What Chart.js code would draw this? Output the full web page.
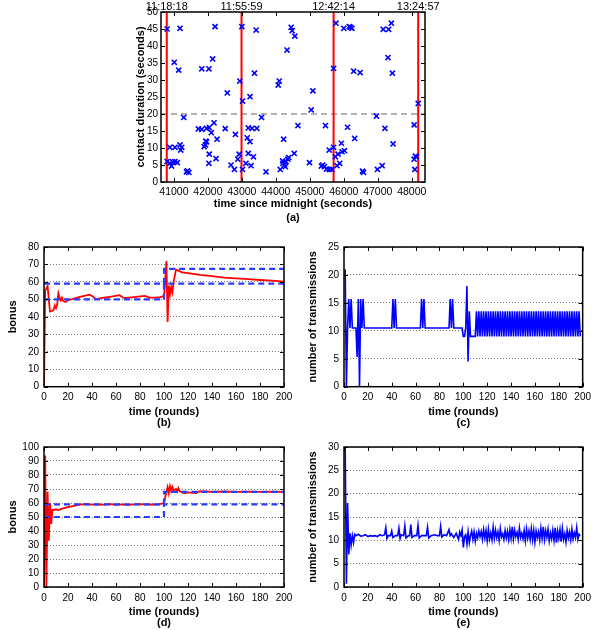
<!DOCTYPE html>
<html>
<head>
<meta charset="utf-8">
<script src="https://cdn.jsdelivr.net/npm/chart.js@4.4.1/dist/chart.umd.min.js"></script>
<style>
  body { margin: 0; background: #fff; }
  #wrap { position: relative; width: 596px; height: 630px; }
  canvas { position: absolute; }
</style>
</head>
<body>
<div id="wrap">
  <canvas id="chartA" width="325" height="228" style="left:120px;top:0px"></canvas>
  <canvas id="chartB" width="298" height="194" style="left:0px;top:236px"></canvas>
  <canvas id="chartC" width="296" height="194" style="left:300px;top:236px"></canvas>
  <canvas id="chartD" width="298" height="194" style="left:0px;top:436px"></canvas>
  <canvas id="chartE" width="296" height="194" style="left:300px;top:436px"></canvas>
</div>
<script>
// ---- (a) contacts: time since midnight vs contact duration
const contactTime = [
  40800, 41180, 42210, 41010, 41140, 42140, 41820, 42030, 42570, 41290,
  42180, 41720, 41820, 42040, 41960, 42100, 42510, 42270, 40880, 41030,
  41180, 41230, 41200, 41930, 41960, 41890, 41940, 42040, 42240, 42030,
  40800, 40880, 40960, 41030, 41100, 40930, 41370, 41440, 41400, 43000,
  43420, 44450, 44480, 44330, 43370, 42940, 44100, 44070, 43020, 43240,
  43580, 42810, 43190, 43300, 43440, 43160, 43240, 44230, 42920, 42880,
  43190, 43340, 43120, 43270, 42680, 42780, 43020, 43710, 44130, 44250,
  44300, 44350, 44280, 44210, 44200, 44380, 44540, 44560, 45770, 46000,
  46160, 46240, 46200, 45700, 46290, 46480, 45090, 45040, 44650, 45460,
  46110, 46320, 45570, 45700, 45930, 45750, 45830, 45950, 46020, 45880,
  44990, 45340, 45430, 45490, 45570, 45650, 45800, 45380, 47160, 47320,
  47400, 47300, 47430, 48190, 46960, 47210, 48070, 47450, 48070, 48140,
  48090, 47130, 46990, 46580, 48110, 46550
];
const contactDuration = [
  45.0, 45.2, 45.7, 35.2, 32.9, 36.2, 33.3, 33.3, 26.2, 19.0,
  17.4, 15.6, 15.5, 16.0, 15.8, 14.5, 15.7, 12.6, 10.2, 10.2,
  10.9, 10.2, 9.4, 10.9, 11.8, 10.4, 12.0, 8.2, 6.9, 5.5,
  6.0, 5.5, 5.9, 6.0, 5.7, 4.7, 3.0, 2.8, 3.3, 45.7,
  44.7, 45.5, 44.5, 38.8, 32.0, 29.7, 29.7, 28.5, 23.8, 25.1,
  19.0, 14.0, 15.9, 15.8, 15.8, 13.0, 11.9, 12.6, 8.2, 6.7,
  8.4, 7.4, 5.5, 4.8, 5.0, 3.7, 3.7, 3.0, 3.7, 5.0,
  6.0, 6.7, 4.5, 5.5, 6.2, 7.2, 8.4, 42.9, 46.7, 45.2,
  45.7, 45.2, 45.5, 33.4, 32.6, 32.2, 26.8, 21.2, 16.6, 16.6,
  16.1, 12.8, 9.4, 10.2, 11.4, 7.4, 8.2, 8.9, 9.2, 5.5,
  5.7, 4.7, 4.5, 3.8, 3.7, 3.7, 4.8, 5.0, 44.9, 44.9,
  46.7, 36.6, 32.0, 23.1, 19.4, 15.8, 16.8, 11.2, 6.7, 7.4,
  3.7, 4.8, 3.7, 2.8, 7.6, 3.2
];
const timeTicks = [41000, 42000, 43000, 44000, 45000, 46000, 47000, 48000];
const redLineX = [40790, 42990, 45700, 48190];
const topTimeLabels = ['11:18:18', '11:55:59', '12:42:14', '13:24:57'];
const thresholdSeconds = 20;
const timeMin = 40620;
const timeMax = 48390;

// ---- shared x ticks for the round panels
const roundTicks = [0, 20, 40, 60, 80, 100, 120, 140, 160, 180, 200];

// ---- bonus levels (dashed blue)
const levelRounds = [0, 100, 100, 200];
const bLow = [50, 50, 59, 59];
const bHigh = [59, 59, 67.5, 67.5];
const dLow = [50, 50, 59, 59];
const dHigh = [59, 59, 68, 68];

// ---- (b) bonus
const bRounds = [0, 1, 3, 4, 5, 7, 8, 9, 10, 11, 12, 13, 14, 15, 16, 18, 20, 25, 30, 38,
  40, 43, 50, 55, 63, 66, 68, 75, 84, 88, 92, 97, 100, 101, 102, 103, 104, 105, 106, 107,
  108, 110, 112, 115, 120, 130, 140, 150, 160, 170, 180, 190, 200];
const bBonus = [0, 55, 57.5, 50, 43, 43.5, 44, 46.5, 45, 47, 53.5, 51, 49.5, 51, 49, 48.5, 49.5, 50.5, 51.5, 52.7,
  52, 50.2, 51, 51.5, 52.4, 51, 50.8, 51.3, 52, 51, 51, 51.3, 52, 60, 72, 37, 58, 53, 57, 54,
  60, 67, 66.5, 65.5, 65, 64, 63.3, 62.5, 62, 61.6, 61.1, 60.7, 60.2];

// ---- (c) number of transmissions
const cRounds = [1, 2, 3, 4, 5, 6, 7, 10, 11, 12, 13, 14, 15, 16, 17,
  40, 41, 42, 43, 44, 64, 65, 66, 67, 68, 88, 89, 90, 91, 92,
  99, 100, 101, 102, 103, 104, 105, 106, 110,
  111, 112, 113, 114, 115, 116, 117, 118, 119, 120,
  121, 122, 123, 124, 125, 126, 127, 128, 129, 130,
  131, 132, 133, 134, 135, 136, 137, 138, 139, 140,
  141, 142, 143, 144, 145, 146, 147, 148, 149, 150,
  151, 152, 153, 154, 155, 156, 157, 158, 159, 160,
  161, 162, 163, 164, 165, 166, 167, 168, 169, 170,
  171, 172, 173, 174, 175, 176, 177, 178, 179, 180,
  181, 182, 183, 184, 185, 186, 187, 188, 189, 190,
  191, 192, 193, 194, 195, 196, 197, 198];
const cTrans = [21, 0, 10.5, 15.7, 10.5, 15.7, 10.5, 10.5, 5.3, 15.7, 0, 15.7, 10.5, 15.7, 10.5,
  10.5, 15.7, 10.5, 15.7, 10.5, 10.5, 15.7, 10.5, 15.7, 10.5, 10.5, 15.7, 10.5, 15.7, 10.5,
  10.5, 9, 9, 10.5, 18, 4.5, 13.5, 9, 9,
  13.5, 9, 13.5, 9, 13.5, 9, 13.5, 9, 13.5, 9,
  13.5, 9, 13.5, 9, 13.5, 9, 13.5, 9, 13.5, 9,
  13.5, 9, 13.5, 9, 13.5, 9, 13.5, 9, 13.5, 9,
  13.5, 9, 13.5, 9, 13.5, 9, 13.5, 9, 13.5, 9,
  13.5, 9, 13.5, 9, 13.5, 9, 13.5, 9, 13.5, 9,
  13.5, 9, 13.5, 9, 13.5, 9, 13.5, 9, 13.5, 9,
  13.5, 9, 13.5, 9, 13.5, 9, 13.5, 9, 13.5, 9,
  13.5, 9, 13.5, 9, 13.5, 9, 13.5, 9, 13.5, 9,
  13.5, 9, 13.5, 9, 13.5, 9, 13.5, 9];

// ---- (d) bonus
const dRounds = [0, 1, 2, 3, 4, 5, 6, 7, 8, 10, 12, 15, 20, 25, 30, 35, 40, 45, 50, 55, 60,
  65, 70, 75, 80, 85, 90, 95, 100, 101, 102, 103, 104, 105, 106, 107, 108, 110, 111, 112, 113,
  115, 117, 120, 124, 127, 129, 135, 140, 150, 160, 170, 180, 190, 200];
const dBonus = [0, 94, 0, 68, 33, 60, 45, 55, 55, 55.5, 55, 56, 57, 58, 58.8, 59.2, 58.8, 59, 58.8, 59.2, 58.7,
  59, 58.6, 59, 59.2, 58.8, 59, 58.8, 60, 64, 68, 71.5, 67, 72, 68.5, 71.5, 69, 70, 68, 70.5, 68.5,
  67.5, 67, 67.6, 67.2, 67, 68.3, 68.2, 68, 68.2, 68, 68.1, 68, 68.1, 68];

// ---- (e) number of transmissions
const eRounds = [1, 2, 3, 4, 5, 6, 7, 8, 9, 10, 12, 14, 16, 18, 20, 22, 24, 26, 28,
  30, 32, 34, 35, 36, 37, 39, 40, 41, 43, 45, 46, 47, 48, 50, 51, 52, 54, 55, 56,
  57, 59, 61, 62, 63, 65, 67, 69, 70, 71, 73, 76, 78, 80, 81, 82, 84, 86, 88, 89,
  90, 92, 94, 96, 97, 98, 99, 100, 101, 102, 103, 104, 105, 106, 107, 108, 109, 110, 111, 112,
  113, 114, 115, 116, 117, 118, 119, 120, 121, 122, 123, 124, 125, 126, 127, 128, 129, 130,
  131, 132, 133, 134, 135, 136, 137, 138, 139, 140, 141, 142, 143, 144, 145, 146, 147, 148,
  149, 150, 151, 152, 153, 154, 155, 156, 157, 158, 159, 160, 161, 162, 163, 164, 165, 166,
  167, 168, 169, 170, 171, 172, 173, 174, 175, 176, 177, 178, 179, 180, 181, 182, 183, 184,
  185, 186, 187, 188, 189, 190, 191, 192, 193, 194, 195, 196, 197, 198];
const eTrans = [30, 0.7, 18, 7, 11.5, 9, 11, 9.5, 11.3, 11, 11.3, 10.9, 11, 11.2, 10.8, 11, 10.9, 11, 10.8,
  11.2, 11, 11.2, 12.7, 10.4, 11, 11, 12, 10.6, 11, 11, 12.6, 10.4, 11.2, 11, 13.1, 10.5, 11, 11, 13.4,
  10.6, 11, 11, 13.2, 10.5, 11, 11, 11, 12.8, 10.5, 11, 11.2, 11, 11, 13, 10.7, 11.2, 11, 12.3, 11,
  11.4, 10.6, 11.5, 10.2, 11.8, 11, 12.2, 8.5, 10.8, 11.2, 9.2, 11.8, 9.5, 11, 12, 10.2, 11.8, 9.8, 11.5, 10.5,
  12, 10.8, 11.9, 10.2, 12.3, 10.5, 12.1, 9.9, 12.4, 10.3, 11.6, 10.1, 12.8, 10.4, 12.2, 10.6, 11.8, 10.0,
  12.5, 10.7, 11.4, 10.2, 12.1, 10.5, 11.9, 10.1, 12.3, 10.4, 12.9, 10.3, 12.2, 10.8, 11.7, 10.2, 12.6, 10.6,
  11.5, 10.3, 12.1, 9.9, 12.4, 10.5, 12.0, 10.2, 12.5, 10.1, 12.2, 9.6, 12.0, 10.6, 11.8, 10.0, 12.6, 10.4,
  12.9, 10.2, 12.1, 10.7, 12.4, 9.9, 11.6, 10.3, 12.2, 10.0, 12.7, 9.5, 12.0, 10.4, 12.3, 9.7, 12.5, 10.2,
  11.4, 9.6, 12.1, 10.5, 11.8, 10.1, 12.4, 10.3, 11.6, 10.6, 12.7, 10.2, 11.3, 11.0];

const FONT = "'Liberation Sans', Arial, Helvetica, sans-serif";
const RED = '#ff0000';
const BLUE = '#0000ff';
const DASH_BLUE = '#2a3cff';

Chart.defaults.font.family = FONT;
Chart.defaults.color = '#000';

// pairs two arrays into {x, y} points
function toPoints(xs, ys) {
  return xs.map((x, i) => ({ x: x, y: ys[i] }));
}

// gnuplot style box with inward ticks on all four sides
const framePlugin = {
  id: 'frame',
  afterDatasetsDraw(chart) {
    const { ctx, chartArea: a, scales } = chart;
    const x = scales.x, y = scales.y;
    ctx.save();
    ctx.strokeStyle = '#000';
    ctx.lineWidth = 1;
    ctx.beginPath();
    x.ticks.forEach(t => {
      const px = Math.round(x.getPixelForValue(t.value)) + 0.5;
      ctx.moveTo(px, a.bottom); ctx.lineTo(px, a.bottom - 4);
      ctx.moveTo(px, a.top); ctx.lineTo(px, a.top + 4);
    });
    y.ticks.forEach(t => {
      const py = Math.round(y.getPixelForValue(t.value)) + 0.5;
      ctx.moveTo(a.left, py); ctx.lineTo(a.left + 4, py);
      ctx.moveTo(a.right, py); ctx.lineTo(a.right - 4, py);
    });
    ctx.stroke();
    ctx.lineWidth = 1.5;
    ctx.strokeRect(a.left, a.top, a.right - a.left, a.bottom - a.top);
    ctx.restore();
  }
};

function baseOptions(padTop, padRight) {
  return {
    responsive: false,
    animation: false,
    events: [],
    layout: { padding: { top: padTop, right: padRight, left: 0, bottom: 0 } },
    plugins: { legend: { display: false }, tooltip: { enabled: false } },
    elements: { line: { tension: 0 }, point: { radius: 0 } }
  };
}

// line chart used for panels (b) to (e)
function roundsChart(id, datasets, yMax, yStep, yTitle, letter, padTop, padRight, xHeight) {
  const opts = baseOptions(padTop, padRight);
  opts.scales = {
    x: {
      type: 'linear', min: 0, max: 200,
      afterBuildTicks: s => { s.ticks = roundTicks.map(v => ({ value: v })); },
      ticks: { autoSkip: false, maxRotation: 0, padding: 5, font: { size: 10 }, callback: v => String(v) },
      grid: { display: false, drawTicks: false },
      border: { display: false },
      title: { display: true, text: ['time (rounds)', letter], font: { size: 11, weight: 'bold', lineHeight: 1.05 }, padding: { top: 0, bottom: 1 } },
      afterFit: s => { s.height = xHeight; }
    },
    y: {
      min: 0, max: yMax,
      ticks: { stepSize: yStep, autoSkip: false, padding: 5, font: { size: 10 }, callback: v => String(v) },
      grid: { color: '#777', lineWidth: 1, drawTicks: false },
      border: { display: false, dash: [1, 2] },
      title: { display: true, text: yTitle, font: { size: 11, weight: 'bold', lineHeight: 1.2 }, padding: { top: 6.5, bottom: 0 } },
      afterFit: s => { s.width = 44; }
    }
  };
  return new Chart(document.getElementById(id).getContext('2d'), {
    type: 'line',
    data: { datasets: datasets },
    options: opts,
    plugins: [framePlugin]
  });
}

function levelSet(ys) {
  return { data: toPoints(levelRounds, ys), borderColor: DASH_BLUE, borderWidth: 2.2, borderDash: [6, 4], pointRadius: 0 };
}

function redSet(xs, ys) {
  return { data: toPoints(xs, ys), borderColor: RED, borderWidth: 1.8, pointRadius: 0 };
}

function blueSet(xs, ys) {
  return { data: toPoints(xs, ys), borderColor: BLUE, borderWidth: 1.6, pointRadius: 0 };
}

// ---- panel (a)
function drawContacts() {
  const datasets = [{
    type: 'scatter',
    data: toPoints(contactTime, contactDuration),
    pointStyle: 'crossRot', pointRadius: 3.6, borderColor: BLUE, borderWidth: 1.6, showLine: false
  }];
  redLineX.forEach(v => {
    datasets.push({ data: [{ x: v, y: 0 }, { x: v, y: 50 }], borderColor: RED, borderWidth: 2, pointRadius: 0 });
  });
  datasets.push({
    data: [{ x: timeMin, y: thresholdSeconds }, { x: timeMax, y: thresholdSeconds }],
    borderColor: '#999', borderWidth: 1.3, borderDash: [6, 4], pointRadius: 0
  });

  const opts = baseOptions(0, 20);
  opts.scales = {
    x: {
      type: 'linear', min: timeMin, max: timeMax,
      afterBuildTicks: s => { s.ticks = timeTicks.map(v => ({ value: v })); },
      ticks: { autoSkip: false, maxRotation: 0, padding: 4, font: { size: 10.5 }, callback: v => String(v) },
      grid: { display: false, drawTicks: false },
      border: { display: false },
      title: { display: true, text: ['time since midnight (seconds)', '(a)'], font: { size: 11, weight: 'bold', lineHeight: 1.3 }, padding: { top: 0, bottom: 3 } },
      afterFit: s => { s.height = 46; }
    },
    x2: {
      type: 'linear', position: 'top', min: timeMin, max: timeMax,
      afterBuildTicks: s => { s.ticks = redLineX.map(v => ({ value: v })); },
      ticks: { autoSkip: false, maxRotation: 0, padding: -0.5, font: { size: 11, lineHeight: 1 }, callback: (v, i) => topTimeLabels[i] },
      grid: { display: false, drawTicks: false },
      border: { display: false },
      afterFit: s => { s.height = 12; }
    },
    y: {
      min: 0, max: 50,
      ticks: { stepSize: 5, autoSkip: false, padding: 3, font: { size: 10 } },
      grid: { display: false, drawTicks: false },
      border: { display: false },
      title: { display: true, text: 'contact duration (seconds)', font: { size: 11, weight: 'bold', lineHeight: 1.2 }, padding: { top: 14, bottom: 0 } },
      afterFit: s => { s.width = 41; }
    }
  };
  new Chart(document.getElementById('chartA').getContext('2d'), {
    type: 'line',
    data: { datasets: datasets },
    options: opts,
    plugins: [framePlugin]
  });
}

drawContacts();
roundsChart('chartB', [levelSet(bHigh), levelSet(bLow), redSet(bRounds, bBonus)], 80, 10, 'bonus', '(b)', 9.7, 14, 43.3);
roundsChart('chartC', [blueSet(cRounds, cTrans)], 25, 5, 'number of transmissions', '(c)', 9.7, 12, 43.3);
roundsChart('chartD', [levelSet(dHigh), levelSet(dLow), redSet(dRounds, dBonus)], 100, 10, 'bonus', '(d)', 10, 14, 43);
roundsChart('chartE', [blueSet(eRounds, eTrans)], 30, 5, 'number of transmissions', '(e)', 10, 12, 43);
</script>
</body>
</html>
